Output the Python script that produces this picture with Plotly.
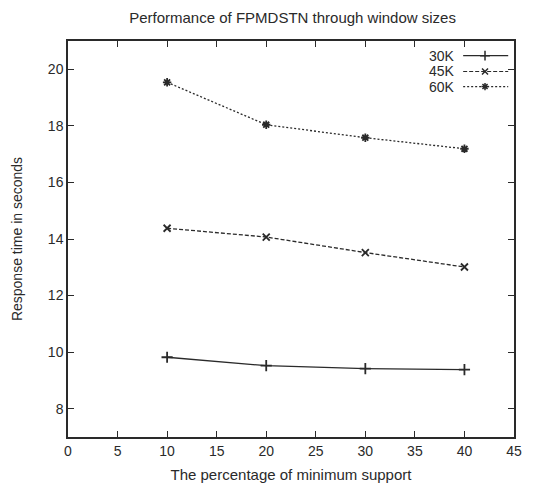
import plotly.graph_objects as go

support = [10, 20, 30, 40]
series_names = ["30K", "45K", "60K"]
resp_30k = [9.82, 9.52, 9.42, 9.38]
resp_45k = [14.38, 14.07, 13.52, 13.01]
resp_60k = [19.54, 18.04, 17.58, 17.19]
x_ticks = [0, 5, 10, 15, 20, 25, 30, 35, 40, 45]
y_ticks = [8, 10, 12, 14, 16, 18, 20]

values = [resp_30k, resp_45k, resp_60k]
dashes = ["solid", "4px,2px", "2px,2px"]
symbols = ["cross-thin-open", "x-thin-open", "asterisk-open"]
msizes = [8, 7, 7]
col = "#2a2a2a"
font = "Liberation Sans, Arial, sans-serif"

W, H = 527, 478

fig = go.Figure()
for name, vals, d, s, ms in zip(series_names, values, dashes, symbols, msizes):
    fig.add_trace(go.Scatter(
        x=support, y=vals, name=name, mode="lines+markers",
        line=dict(color=col, width=1.3, dash=d),
        marker=dict(symbol=s, size=ms, color=col, line=dict(color=col, width=1.8)),
        showlegend=False,
    ))

# gnuplot-style legend: text followed by sample, drawn in an overlay axis
leg_y = [0.963, 0.923, 0.885]
for name, d, s, ms, ly in zip(series_names, dashes, symbols, msizes, leg_y):
    fig.add_trace(go.Scatter(
        x=[0.886, 0.935, 0.987], y=[ly, ly, ly], xaxis="x2", yaxis="y2",
        mode="lines", line=dict(color=col, width=1.2, dash=d),
        showlegend=False, hoverinfo="skip",
    ))
    fig.add_trace(go.Scatter(
        x=[0.935], y=[ly], xaxis="x2", yaxis="y2", mode="markers",
        marker=dict(symbol=s, size=ms - 1, color=col, line=dict(color=col, width=1.5)),
        showlegend=False, hoverinfo="skip",
    ))
    fig.add_annotation(x=0.872, y=ly, xref="x2", yref="y2", text=name,
                       showarrow=False, xanchor="right", yanchor="middle",
                       font=dict(family=font, size=14, color=col))

fig.update_layout(
    width=W, height=H,
    margin=dict(l=60, r=21, t=33, b=49),
    paper_bgcolor="white", plot_bgcolor="white",
    title=dict(text="Performance of FPMDSTN through window sizes", x=0.54, xanchor="center",
               y=1 - 10 / H, yanchor="middle", font=dict(family=font, size=15, color=col)),
    font=dict(family=font, size=13, color=col),
    xaxis=dict(range=[0, 45], tickvals=x_ticks, ticks="inside", ticklen=6, tickcolor=col,
               showline=True, mirror="ticks", linecolor=col, linewidth=1.5, showgrid=False,
               zeroline=False, automargin=False,
               title=dict(text="The percentage of minimum support", standoff=12,
                          font=dict(size=15)),
               tickfont=dict(size=14)),
    yaxis=dict(range=[7, 21], tickvals=y_ticks, ticks="inside", ticklen=6, tickcolor=col,
               showline=True, mirror="ticks", linecolor=col, linewidth=1.5, showgrid=False,
               zeroline=False, automargin=False,
               title=dict(text="Response time in seconds", standoff=22,
                          font=dict(size=14)),
               tickfont=dict(size=14)),
    xaxis2=dict(range=[0, 1], overlaying="x", visible=False, fixedrange=True),
    yaxis2=dict(range=[0, 1], overlaying="y", visible=False, fixedrange=True),
)

fig.write_html("out.html")
